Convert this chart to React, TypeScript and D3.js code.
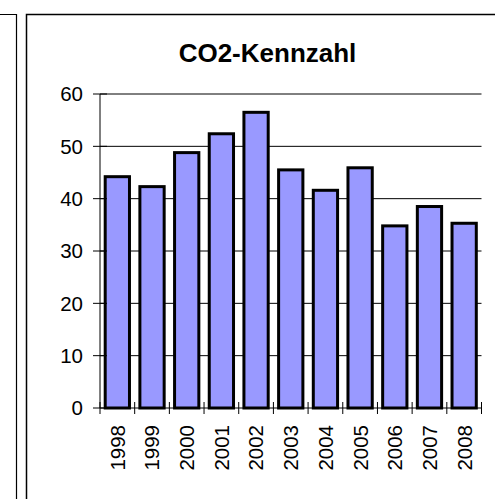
import { useRef, useEffect } from "react";
import * as d3 from "d3";

const years = ["1998", "1999", "2000", "2001", "2002", "2003", "2004", "2005", "2006", "2007", "2008"];
const values = [44.2, 42.3, 48.8, 52.4, 56.5, 45.5, 41.6, 45.9, 34.8, 38.5, 35.3];
const yTicks = [0, 10, 20, 30, 40, 50, 60];

const W = 495;
const H = 499;

export default function App() {
  const svgRef = useRef<SVGSVGElement>(null);

  useEffect(() => {
    if (!svgRef.current) return;
    const svg = d3.select(svgRef.current);
    svg.selectAll("*").remove();

    const font = "'Liberation Sans', Arial, sans-serif";

    // frames
    svg.append("path")
      .attr("d", "M0,14.5H16.5V499")
      .attr("fill", "none").attr("stroke", "#000").attr("stroke-width", 1.2);
    svg.append("path")
      .attr("d", "M26.5,499V14.5H495")
      .attr("fill", "none").attr("stroke", "#000").attr("stroke-width", 1.5);

    const x = d3.scaleBand<string>()
      .domain(years)
      .range([100, 481.5])
      .paddingInner(0.3)
      .paddingOuter(0.15);

    const y = d3.scaleLinear().domain([0, 60]).range([408, 94]);

    // gridlines
    svg.append("g")
      .selectAll("line")
      .data(yTicks.filter((t) => t > 0))
      .join("line")
      .attr("x1", 100).attr("x2", 481.5)
      .attr("y1", (d) => y(d)).attr("y2", (d) => y(d))
      .attr("stroke", "#000").attr("stroke-width", 1);

    // bars
    svg.append("g")
      .selectAll("rect")
      .data(values)
      .join("rect")
      .attr("x", (_, i) => x(years[i])!)
      .attr("y", (d) => y(d))
      .attr("width", x.bandwidth())
      .attr("height", (d) => y(0) - y(d))
      .attr("fill", "#9999FF")
      .attr("stroke", "#000")
      .attr("stroke-width", 3);

    // y axis
    svg.append("line")
      .attr("x1", 100).attr("x2", 100)
      .attr("y1", y(60)).attr("y2", y(0))
      .attr("stroke", "#000");
    const yt = svg.append("g");
    yt.selectAll("line")
      .data(yTicks)
      .join("line")
      .attr("x1", 93).attr("x2", 107)
      .attr("y1", (d) => y(d)).attr("y2", (d) => y(d))
      .attr("stroke", "#000");
    yt.selectAll("text")
      .data(yTicks)
      .join("text")
      .attr("x", 83)
      .attr("y", (d) => y(d))
      .attr("dy", "0.36em")
      .attr("text-anchor", "end")
      .attr("font-family", font)
      .attr("font-size", 20.5)
      .attr("fill", "#000")
      .text((d) => d);

    // x axis
    svg.append("line")
      .attr("x1", 100).attr("x2", 481.5)
      .attr("y1", y(0)).attr("y2", y(0))
      .attr("stroke", "#000");
    const step = x.step();
    svg.append("g")
      .selectAll("line")
      .data(d3.range(years.length + 1))
      .join("line")
      .attr("x1", (i) => 100 + i * step).attr("x2", (i) => 100 + i * step)
      .attr("y1", y(0) - 6).attr("y2", y(0) + 6)
      .attr("stroke", "#000");
    svg.append("g")
      .selectAll("text")
      .data(years)
      .join("text")
      .attr("transform", (d) => `translate(${x(d)! + x.bandwidth() / 2},425) rotate(-90)`)
      .attr("dy", "0.36em")
      .attr("text-anchor", "end")
      .attr("font-family", font)
      .attr("font-size", 20.5)
      .attr("fill", "#000")
      .text((d) => d);

    // title
    svg.append("text")
      .attr("x", 267.5)
      .attr("y", 61.5)
      .attr("text-anchor", "middle")
      .attr("font-family", font)
      .attr("font-size", 26)
      .attr("font-weight", "bold")
      .attr("fill", "#000")
      .text("CO2-Kennzahl");
  }, []);

  return (
    <svg
      ref={svgRef}
      width={W}
      height={H}
      style={{ position: "absolute", left: 0, top: 0, background: "#fff" }}
    />
  );
}
